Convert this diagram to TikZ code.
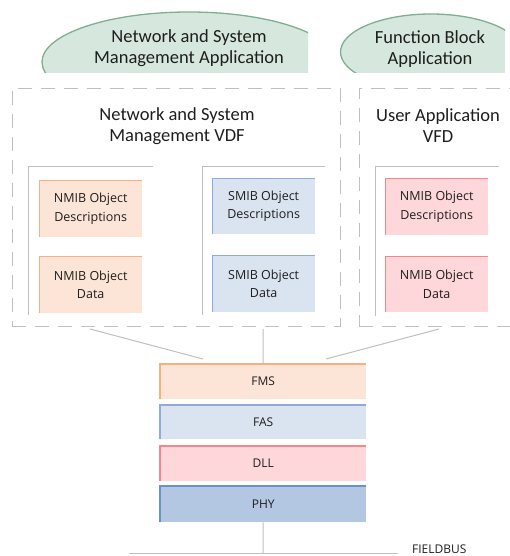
\documentclass[tikz,border=0pt]{standalone}
\usepackage{fontspec}
\setmainfont{Open Sans}
\newfontfamily\titlefont{Carlito}
\usetikzlibrary{shapes.geometric}

\definecolor{lineGray}{HTML}{BFBFBF}
\definecolor{txt}{HTML}{1E1E1E}
\definecolor{appFill}{HTML}{D6E7DD}
\definecolor{appLine}{HTML}{7DB08F}
\definecolor{orFill}{HTML}{FCE5D7}
\definecolor{orLine}{HTML}{F6B183}
\definecolor{ltFill}{HTML}{DAE3F0}
\definecolor{ltLine}{HTML}{8FAADC}
\definecolor{rdFill}{HTML}{FDD7D9}
\definecolor{rdLine}{HTML}{F5878B}
\definecolor{dkFill}{HTML}{B4C7E2}
\definecolor{dkLine}{HTML}{6A92CA}

% top and left edges of a box only
\newcommand\tlEdge[3]{\draw[#2, line width=#3] (#1.south west) -- (#1.north west) -- (#1.north east);}

\tikzset{
  appshape/.style={ellipse, fill=appFill, draw=appLine, line width=1.3pt, inner sep=0pt},
  titletext/.style={font=\titlefont\fontsize{18.5}{21}\selectfont, text=txt, align=center, inner sep=0pt},
  dashframe/.style={draw=lineGray, line width=0.9pt, dash pattern=on 14pt off 9pt, anchor=north west, inner sep=0pt},
  innerframe/.style={draw=lineGray, line width=1pt},
  mibbox/.style={anchor=north west, inner sep=0pt, align=center, minimum width=103pt, text=txt,
    font=\fontsize{12.5}{18.5}\selectfont},
  layer/.style={anchor=north west, inner sep=0pt, minimum width=206pt, text=txt,
    font=\fontsize{12}{14}\selectfont},
  conn/.style={draw=lineGray, line width=1pt},
}

\begin{document}
\begin{tikzpicture}[x=1pt,y=-1pt]
\useasboundingbox (0,0) rectangle (510,556);

% application ellipses, cut off below and to the right
\begin{scope}
  \clip (0,0) rectangle (308,73);
  \node[appshape, minimum width=294pt, minimum height=100pt] (nsmApp) at (189,62) {};
\end{scope}
\begin{scope}
  \clip (309,0) rectangle (505,73);
  \node[appshape, minimum width=181pt, minimum height=76pt] (fbApp) at (431,52) {};
\end{scope}
\node[titletext] (nsmAppT) at (189,48.5) {Network and System\\Management Application};
\node[titletext] (fbAppT) at (430,49.5) {Function Block\\Application};

% virtual field device frames
\node[dashframe, minimum width=328pt, minimum height=238pt] (nsmVfd) at (12,88) {};
\node[dashframe, minimum width=170pt, minimum height=238pt] (uaVfd) at (359,88) {};
\node[titletext] (nsmVfdT) at (177,126) {Network and System\\Management VDF};
\node[titletext] (uaVfdT) at (438,126) {User Application\\VFD};

% object dictionary frames
\draw[innerframe] (28,315) |- (153,167);
\draw[innerframe] (202,315) |- (325,167);
\draw[innerframe] (375,316) |- (499,167);

% object dictionary entries
\node[mibbox, fill=orFill, minimum height=57pt] (nmibDesc) at (39,180) {NMIB Object\\Descriptions};
\node[mibbox, fill=orFill, minimum height=57pt] (nmibData) at (39,256) {NMIB Object\\Data};
\node[mibbox, fill=ltFill, minimum height=56pt] (smibDesc) at (212,178) {SMIB Object\\Descriptions};
\node[mibbox, fill=ltFill, minimum height=57pt] (smibData) at (212,255) {SMIB Object\\Data};
\node[mibbox, fill=rdFill, minimum height=57pt] (uaDesc) at (385,178) {NMIB Object\\Descriptions};
\node[mibbox, fill=rdFill, minimum height=56pt] (uaData) at (385,256) {NMIB Object\\Data};
\tlEdge{nmibDesc}{orLine}{1pt}
\tlEdge{nmibData}{orLine}{1pt}
\tlEdge{smibDesc}{ltLine}{1pt}
\tlEdge{smibData}{ltLine}{1pt}
\tlEdge{uaDesc}{rdLine}{1pt}
\tlEdge{uaData}{rdLine}{1pt}

% communication stack
\node[layer, fill=orFill, minimum height=35pt] (fms) at (160,364) {FMS};
\node[layer, fill=ltFill, minimum height=34pt] (fas) at (160,405) {FAS};
\node[layer, fill=rdFill, minimum height=35pt] (dll) at (160,446) {DLL};
\node[layer, fill=dkFill, minimum height=36pt] (phy) at (160,486) {PHY};
\tlEdge{fms}{orLine}{2pt}
\tlEdge{fas}{ltLine}{2pt}
\tlEdge{dll}{rdLine}{2pt}
\tlEdge{phy}{dkLine}{2pt}

% links from the device frames to the stack
\coordinate (nsmFoot) at (90,329);
\coordinate (fmsLeft) at (203,359);
\coordinate (midFoot) at (263,329);
\coordinate (uaFoot) at (439,329);
\coordinate (fmsRight) at (326,359);
\draw[conn] (nsmFoot) -- (fmsLeft);
\draw[conn] (midFoot) -- (fms.north);
\draw[conn] (uaFoot) -- (fmsRight);

% fieldbus
\coordinate (busL) at (129,553);
\coordinate (busR) at (398,553);
\coordinate (busTap) at (263,553);
\draw[conn] (busL) -- (busR);
\draw[conn] (phy.south) -- (busTap);
\node[anchor=base west, inner sep=0pt, text=txt, font=\fontsize{12}{14}\selectfont] (busT) at (412,553.5) {FIELDBUS};
\end{tikzpicture}
\end{document}
